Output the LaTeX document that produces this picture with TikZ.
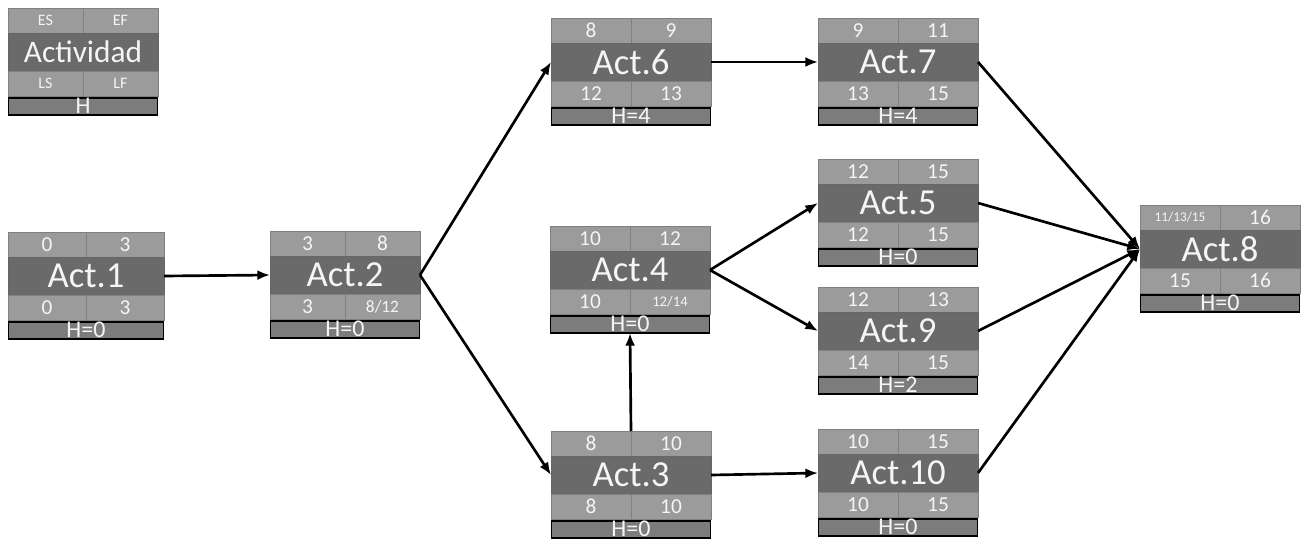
\documentclass[tikz,border=0pt]{standalone}
\usepackage{fontspec}
\setmainfont{Carlito}
\usetikzlibrary{arrows.meta,calc}

\definecolor{cellgray}{RGB}{155,155,155}
\definecolor{maingray}{RGB}{106,106,106}
\definecolor{bargray}{RGB}{124,124,124}
\definecolor{edgegray}{RGB}{128,128,128}
\definecolor{txt}{RGB}{245,245,245}

\newcommand{\bw}{160}
\newcommand{\fs}[1]{\fontsize{#1}{#1}\selectfont}

\tikzset{
  cell/.style={draw=edgegray, line width=0.5pt, fill=cellgray, text=txt,
    inner sep=0pt, outer sep=0pt, minimum width=\bw*0.375pt,
    minimum height=18.75pt, font=\fs{16}},
  mainc/.style={draw=edgegray!80!black, line width=0.5pt, fill=maingray, text=txt,
    inner sep=0pt, outer sep=0pt, minimum width=\bw*0.75pt,
    minimum height=28.5pt, font=\fs{27.5}},
  hbar/.style={draw=black, line width=0.8pt, fill=bargray, text=txt,
    inner sep=0pt, outer sep=0pt, minimum width=\bw*0.75pt-1pt,
    minimum height=12.75pt, font=\fs{18}},
  htext/.style={text=txt, inner sep=0pt, font=\fs{18}},
  link/.style={line width=2pt, -{Latex[length=9.5pt,width=7.5pt]}}
}

% #1 name, #2 x, #3 y (top-left), #4 title, #5 ES, #6 EF, #7 LS, #8 LF, #9 slack
\newcommand{\actbox}[9]{%
  \node[cell, anchor=north west] (#1es) at (#2,#3) {#5};
  \node[cell, anchor=north west] (#1ef) at (#1es.north east) {#6};
  \node[mainc, anchor=north west] (#1) at (#1es.south west) {#4};
  \node[cell, anchor=north west] (#1ls) at (#1.south west) {#7};
  \node[cell, anchor=north west] (#1lf) at (#1ls.north east) {#8};
  \node[hbar, anchor=north] (#1h) at ($(#1ls.south west)!.5!(#1lf.south east)+(0,-1.5pt)$) {};
  \node[htext, anchor=base] (#1ht) at ($(#1h.south)+(0,1.5pt)$) {#9};
}

\begin{document}
\begin{tikzpicture}[x=0.75pt, y=-0.75pt]
\useasboundingbox (0,0) rectangle (1305,543);

% legend
\renewcommand{\bw}{150}
\actbox{leg}{8}{8}{\fs{23.5}Actividad}{\fs{12}ES}{\fs{12}EF}{\fs{12}LS}{\fs{12}LF}{H}

% activities
\renewcommand{\bw}{156}
\actbox{a1}{8}{232}{Act.1}{0}{3}{0}{3}{H=0}
\renewcommand{\bw}{150}
\actbox{a2}{270}{231}{Act.2}{3}{8}{3}{\fs{13}8/12}{H=0}
\renewcommand{\bw}{160}
\actbox{a6}{551}{18}{Act.6}{8}{9}{12}{13}{H=4}
\actbox{a7}{818}{18}{Act.7}{9}{11}{13}{15}{H=4}
\actbox{a5}{818}{159}{Act.5}{12}{15}{12}{15}{H=0}
\actbox{a4}{550}{226}{Act.4}{10}{12}{10}{\fs{11}12/14}{H=0}
\actbox{a9}{818}{287}{Act.9}{12}{13}{14}{15}{H=2}
\actbox{a3}{551}{431}{Act.3}{8}{10}{8}{10}{H=0}
\actbox{a10}{818}{429}{Act.10}{10}{15}{10}{15}{H=0}
\actbox{a8}{1140}{205}{Act.8}{\fs{10}11/13/15}{16}{15}{16}{H=0}

% precedence links
\draw[link] (a1.east) -- (a2.west);
\draw[link] (a2.east) -- (a6.west);
\draw[link] (a2.east) -- (a3.west);
\draw[link] (a6.east) -- (a7.west);
\draw[link] (a4.east) -- (a5.west);
\draw[link] (a4.east) -- (a9.west);
\draw[link] (a3es.north east) -- (a4h.south);
\draw[link] (a3.east) -- (a10.west);
\draw[link] (a7.east) -- (a8.west);
\draw[link] (a5.east) -- (a8.west);
\draw[link] (a9.east) -- (a8.west);
\draw[link] (a10.east) -- (a8.west);
\end{tikzpicture}
\end{document}
